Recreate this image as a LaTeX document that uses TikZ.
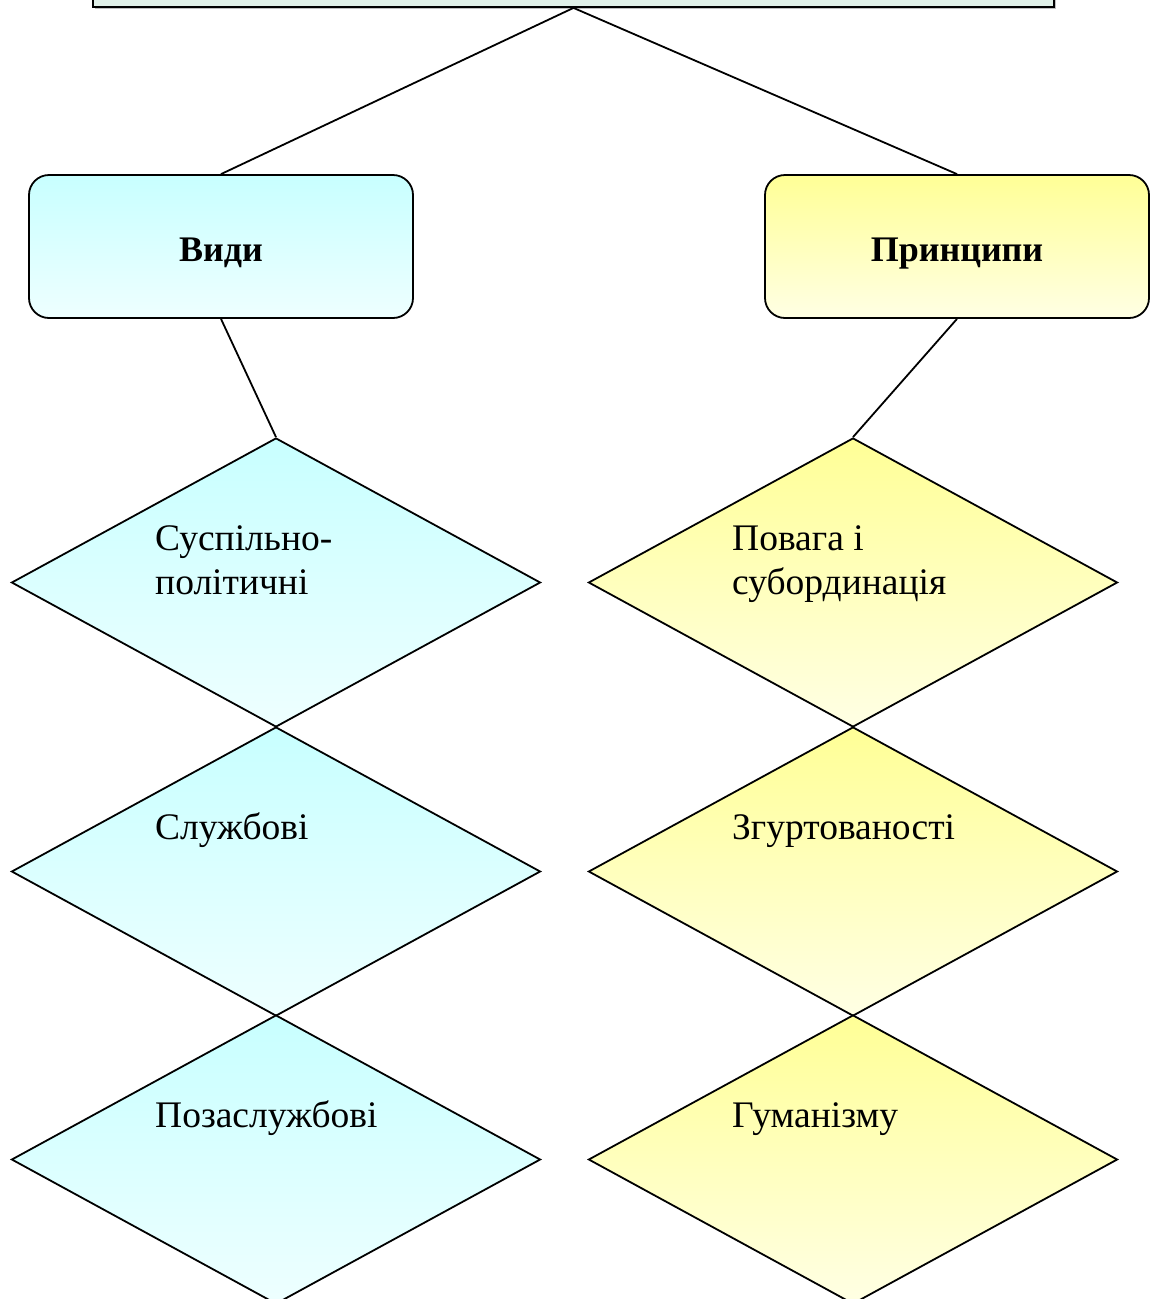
\documentclass[tikz,border=0pt]{standalone}
\usepackage{fontspec}
\setmainfont{Liberation Serif}
\usetikzlibrary{shapes.geometric,shadows}
\definecolor{topfill}{RGB}{224,240,232}
\definecolor{cyantop}{RGB}{200,255,255}
\definecolor{cyanbot}{RGB}{238,255,255}
\definecolor{yeltop}{RGB}{255,255,150}
\definecolor{yelbot}{RGB}{255,255,228}
\tikzset{
  conn/.style={line width=1.8pt},
  catbox/.style={draw,line width=1.8pt,rounded corners=20pt,minimum width=384pt,
    minimum height=143pt,text height=30pt,text depth=0pt,
    font=\fontsize{36}{42}\selectfont\bfseries},
  vbox/.style={catbox,top color=cyantop,bottom color=cyanbot},
  pbox/.style={catbox,top color=yeltop,bottom color=yelbot},
  dia/.style={draw,line width=1.8pt,diamond,inner sep=0pt,minimum width=529pt,
    minimum height=289pt},
  ldia/.style={dia,top color=cyantop,bottom color=cyanbot},
  rdia/.style={dia,top color=yeltop,bottom color=yelbot},
  lbl/.style={anchor=base west,align=left,inner sep=0pt,xshift=-121pt,yshift=-113pt,
    font=\fontsize{37.5}{44}\selectfont}
}
\begin{document}
\begin{tikzpicture}[x=1pt,y=-1pt]
\useasboundingbox (0,0) rectangle (1151,1299);
\node[draw,line width=1.8pt,fill=topfill,minimum width=961pt,minimum height=80pt,
  drop shadow={shadow xshift=1.5pt,shadow yshift=-1.5pt,fill=gray}] (top) at (573.5,-33) {};

\node[vbox] (vydy) at (221,246.5) {Види};
\node[pbox] (pryn) at (957,246.5) {Принципи};

\foreach \i/\y in {1/582.5,2/871.5,3/1159.5}
{
\node[ldia] (l\i) at (276,\y) {};
\node[rdia] (r\i) at (853,\y) {};
}

% two-line labels: base anchor sits on the last line
\node[lbl,yshift=-44pt] (lt1) at (l1.north) {Суспільно-\\політичні};
\node[lbl] (lt2) at (l2.north) {Службові};
\node[lbl] (lt3) at (l3.north) {Позаслужбові};
\node[lbl,yshift=-44pt] (rt1) at (r1.north) {Повага і\\субординація};
\node[lbl] (rt2) at (r2.north) {Згуртованості};
\node[lbl] (rt3) at (r3.north) {Гуманізму};

\draw[conn] (top.south) -- (vydy.north);
\draw[conn] (top.south) -- (pryn.north);
\draw[conn] (vydy.south) -- (l1.north);
\draw[conn] (pryn.south) -- (r1.north);
\end{tikzpicture}
\end{document}
